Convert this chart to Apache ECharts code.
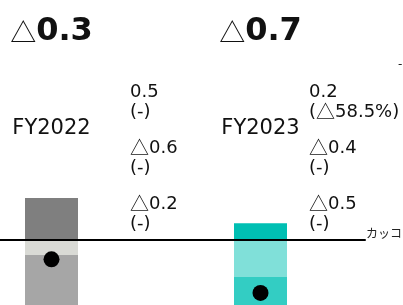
<!DOCTYPE html>
<html><head><meta charset="utf-8">
<script src="https://cdn.jsdelivr.net/npm/echarts@6/dist/echarts.min.js"></script>
<style>html,body{margin:0;padding:0;background:#fff}#c{width:403px;height:305px}</style>
</head><body><div id="c"></div>
<script>
const categories = ['FY2022', 'FY2023'];
const totalLabels = ['△0.3', '△0.7'];
const positiveValues = [0.5, 0.2];
const negativeA = [-0.18, -0.44];
const negativeB = [-0.6, -0.5];
const totalValues = [-0.23, -0.63];
const itemLabelsFY2022 = ['0.5\n(-)', '△0.6\n(-)', '△0.2\n(-)'];
const itemLabelsFY2023 = ['0.2\n(△58.5%)', '△0.4\n(-)', '△0.5\n(-)'];
const noteText = 'カッコ内は前年同期比';

const colTop = ['#7f7f7f', '#00bfb3'];
const colA = ['#d9dad5', '#80e0d9'];
const colB = ['#a6a6a6', '#33cdc3'];
const FONT = '"DejaVu Sans", "Noto Sans CJK JP", sans-serif';
const CJK = '"Noto Sans CJK JP", sans-serif';

const chart = echarts.init(document.getElementById('c'), null, {renderer: 'canvas'});

function colored(vals, cols) {
  return vals.map((v, i) => ({value: v, itemStyle: {color: cols[i]}}));
}
function richTri(t) {
  return t.replace(/△/g, '{tri|△}');
}

const labelGroups = [itemLabelsFY2022, itemLabelsFY2023];
const labelX = [130, 309];
const labelY = [82, 138, 194];
const graphics = [];
labelGroups.forEach((g, gi) => {
  g.forEach((t, ti) => {
    graphics.push({
      type: 'text', x: labelX[gi], y: labelY[ti],
      style: {text: richTri(t), font: '18px ' + FONT, fill: '#111', lineHeight: 20, verticalAlign: 'top',
        rich: {tri: {fontFamily: CJK, fontSize: 19, lineHeight: 20, fill: '#111'}}}
    });
  });
});
graphics.push({
  type: 'text', x: 366, y: 235,
  style: {text: noteText, font: '12px ' + FONT, fill: '#222', verticalAlign: 'middle'}
});
graphics.push({
  type: 'text', x: 398, y: 65,
  style: {text: '-', font: '12px ' + FONT, fill: '#222', verticalAlign: 'middle'}
});

chart.setOption({
  animation: false,
  backgroundColor: '#fff',
  grid: {left: -53, top: 156, width: 418, height: 168, containLabel: false, outerBoundsMode: 'none'},
  xAxis: [
    {type: 'category', data: categories, position: 'bottom', z: 10,
     axisLine: {onZero: true, lineStyle: {color: '#000', width: 2}},
     axisTick: {show: false}, axisLabel: {show: false}, splitLine: {show: false}},
    {type: 'category', data: categories, position: 'top', offset: 0,
     axisLine: {show: false}, axisTick: {show: false}, splitLine: {show: false},
     axisLabel: {interval: 0, hideOverlap: false, margin: 17, fontSize: 21, fontFamily: FONT, color: '#111'}},
    {type: 'category', data: categories, position: 'top', offset: 100,
     axisLine: {show: false}, axisTick: {show: false}, splitLine: {show: false},
     axisLabel: {interval: 0, hideOverlap: false, margin: 8, fontSize: 32, fontWeight: 'bold', fontFamily: FONT, color: '#111',
       formatter: (v, i) => totalLabels[i].replace('△', '{tri|△}'),
       rich: {tri: {fontFamily: CJK, fontSize: 26, fontWeight: 'normal', color: '#111'}}}}
  ],
  yAxis: {type: 'value', min: -1, max: 1, show: false},
  series: [
    {type: 'bar', stack: 's', barWidth: 53, data: colored(positiveValues, colTop)},
    {type: 'bar', stack: 's', barWidth: 53, data: colored(negativeA, colA)},
    {type: 'bar', stack: 's', barWidth: 53, data: colored(negativeB, colB)},
    {type: 'scatter', symbol: 'circle', symbolSize: 16, z: 12,
     itemStyle: {color: '#000', opacity: 1}, data: totalValues}
  ],
  graphic: graphics
});
</script></body></html>
